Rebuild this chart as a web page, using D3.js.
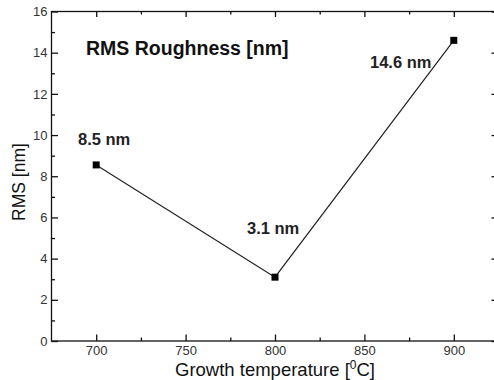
<!DOCTYPE html>
<html>
<head>
<meta charset="utf-8">
<script src="https://cdn.jsdelivr.net/npm/d3@7"></script>
<style>
  body { margin: 0; background: #fff; }
  svg { display: block; font-family: "Liberation Sans", Arial, sans-serif; }
</style>
</head>
<body>
<div id="chart"></div>
<script>
// growth temperature (°C) vs RMS roughness (nm)
const temps = [700, 800, 900];
const rms = [8.55, 3.1, 14.6];
const pointLabels = ["8.5 nm", "3.1 nm", "14.6 nm"];
const xTicks = [700, 750, 800, 850, 900];
const xMinor = [725, 775, 825, 875];
const yTicks = [0, 2, 4, 6, 8, 10, 12, 14, 16];
const yMinor = [1, 3, 5, 7, 9, 11, 13, 15];

const width = 494, height = 380;
const plotL = 51.5, plotR = 498.5, plotT = 11.5, plotB = 341;

const svg = d3.select("#chart").append("svg")
    .attr("width", width)
    .attr("height", height);

const x = d3.scaleLinear().domain([675, 925]).range([plotL, plotR]);
const y = d3.scaleLinear().domain([0, 16]).range([plotB, plotT]);

// frame
svg.append("rect")
    .attr("x", plotL).attr("y", plotT)
    .attr("width", plotR - plotL).attr("height", plotB - plotT)
    .attr("fill", "none").attr("stroke", "#111").attr("stroke-width", 1.3);

// helper to draw inward ticks
function ticks(axis, vals, size, pos, labels) {
    const g = svg.append("g").attr("transform", pos).call(axis.tickValues(vals).tickSize(size).tickSizeOuter(0));
    g.select(".domain").remove();
    g.selectAll(".tick line").attr("stroke", "#111").attr("stroke-width", 1.3);
    if (labels) {
        g.selectAll(".tick text").attr("fill", "#333").attr("font-size", 13);
    } else {
        g.selectAll(".tick text").remove();
    }
    return g;
}

// bottom
const gx = ticks(d3.axisBottom(x).tickFormat(d3.format("d")), xTicks, -6.5, `translate(0,${plotB})`, true);
gx.selectAll(".tick text").attr("dy", "0.71em").attr("y", 5);
ticks(d3.axisBottom(x), xMinor, -3.5, `translate(0,${plotB})`, false);
// top
ticks(d3.axisTop(x), xTicks, -5.5, `translate(0,${plotT})`, false);
ticks(d3.axisTop(x), xMinor, -3, `translate(0,${plotT})`, false);
// left
const gy = ticks(d3.axisLeft(y).tickFormat(d3.format("d")), yTicks, -6.5, `translate(${plotL},0)`, true);
gy.selectAll(".tick text").attr("x", -4);
ticks(d3.axisLeft(y), yMinor, -3.5, `translate(${plotL},0)`, false);
// right
ticks(d3.axisRight(y), yTicks, -7, `translate(${plotR},0)`, false);
ticks(d3.axisRight(y), yMinor, -4, `translate(${plotR},0)`, false)
    .selectAll(".tick line").attr("stroke", "#999");

// data line and markers
const pts = temps.map((t, i) => ({ t: t, v: rms[i], label: pointLabels[i] }));

svg.append("path")
    .datum(pts)
    .attr("fill", "none")
    .attr("stroke", "#222")
    .attr("stroke-width", 1.2)
    .attr("d", d3.line().x(d => x(d.t)).y(d => y(d.v)));

svg.selectAll(".pt")
    .data(pts)
    .enter().append("rect")
    .attr("x", d => x(d.t) - 3.5)
    .attr("y", d => y(d.v) - 3.5)
    .attr("width", 7).attr("height", 7)
    .attr("fill", "#000");

// point labels
const labelPos = [[78, 145], [247, 234], [370, 68]];
svg.selectAll(".lbl")
    .data(pts)
    .enter().append("text")
    .attr("x", (d, i) => labelPos[i][0])
    .attr("y", (d, i) => labelPos[i][1])
    .attr("font-size", 16.5)
    .attr("font-weight", "bold")
    .attr("fill", "#222")
    .text(d => d.label);

// title
svg.append("text")
    .attr("x", 86).attr("y", 55)
    .attr("font-size", 19.5)
    .attr("font-weight", "bold")
    .attr("fill", "#111")
    .text("RMS Roughness [nm]");

// axis titles
const xt = svg.append("text")
    .attr("x", 275).attr("y", 375.5)
    .attr("text-anchor", "middle")
    .attr("font-size", 18.5)
    .attr("fill", "#111")
    .text("Growth temperature [");
xt.append("tspan").attr("dy", -7).attr("font-size", 12).text("0");
xt.append("tspan").attr("dy", 7).text("C]");

svg.append("text")
    .attr("transform", "translate(25,182) rotate(-90)")
    .attr("text-anchor", "middle")
    .attr("font-size", 17.5)
    .attr("fill", "#111")
    .text("RMS [nm]");
</script>
</body>
</html>
